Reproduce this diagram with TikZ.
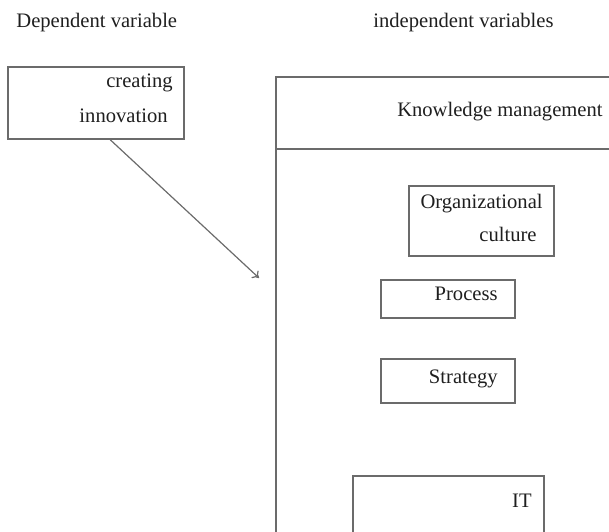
\documentclass[tikz,border=0pt]{standalone}
\usepackage{fontspec}
\setmainfont{Liberation Serif}
\usetikzlibrary{calc, arrows.meta}
\definecolor{linegray}{gray}{0.42}
\definecolor{inkgray}{gray}{0.12}

\begin{document}
\begin{tikzpicture}[x=0.5pt, y=-0.5pt, >={To[length=3pt, width=5pt]},
    box/.style = {draw=linegray, line width=0.7pt, inner sep=0pt},
    txt/.style = {text=inkgray, inner sep=0pt, anchor=base east, font=\fontsize{10.3}{12}\selectfont}]
    \useasboundingbox (0,0) rectangle (609,531);
    \clip (0,0) rectangle (609,531);

    % headings
    \node[txt, anchor=base west] (dep)   at (16,27)  {Dependent variable};
    \node[txt, anchor=base west] (indep) at (373,27) {independent variables};

    % dependent variable
    \node[box, minimum width=88pt, minimum height=36pt] (ci) at (96,103) {};
    \node[txt] (ciA) at (173,87)  {creating};
    \node[txt] (ciB) at (168,122) {innovation};

    % knowledge management frame, runs off the page
    \draw[draw=linegray, line width=0.7pt] (640,77) -| (276,560);
    \draw[draw=linegray, line width=0.7pt] (276,149) -- (640,149);
    \node[txt] (km) at (603,116) {Knowledge management};

    % independent variables
    \node[box, minimum width=72.5pt, minimum height=35pt] (cult)  at (481.5,221) {};
    \node[txt] (cultA) at (543,208) {Organizational};
    \node[txt] (cultB) at (537,241) {culture};

    \node[box, minimum width=67pt, minimum height=19pt] (proc)  at (448,299) {};
    \node[txt] (procT) at (498,300) {Process};

    \node[box, minimum width=67pt, minimum height=22pt] (strat) at (448,381) {};
    \node[txt] (stratT) at (498,383) {Strategy};

    \node[box, minimum width=95.5pt, minimum height=42pt] (it) at (448.5,518) {};
    \node[txt] (itT) at (532,507) {IT};

    % link
    \coordinate (tip) at (259,278);
    \draw[draw=linegray, line width=0.6pt, ->] ($(ci.south west)!0.58!(ci.south east)$) -- (tip);
\end{tikzpicture}
\end{document}
